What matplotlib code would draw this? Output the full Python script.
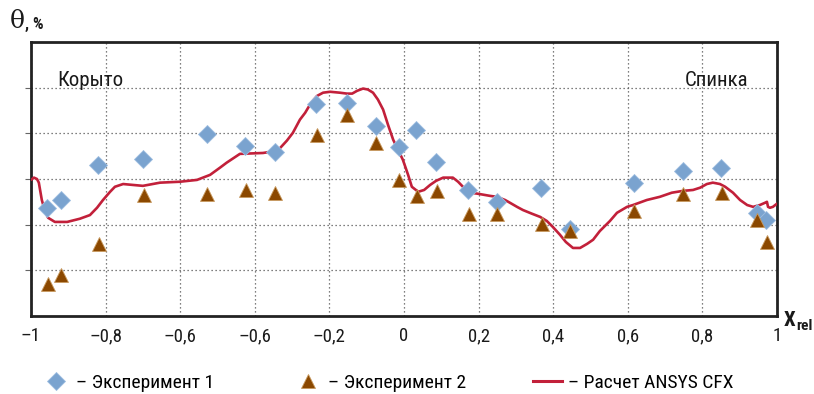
import matplotlib
matplotlib.use("Agg")
import matplotlib.pyplot as plt
from matplotlib import font_manager as fm
from matplotlib.lines import Line2D

# ---------------- data ----------------
exp1_x = [-0.957, -0.920, -0.820, -0.700, -0.528, -0.426, -0.346, -0.236, -0.153, -0.075,
          -0.013, 0.032, 0.086, 0.172, 0.249, 0.367, 0.445, 0.617, 0.748, 0.850, 0.946, 0.971]
exp1_y = [2.37, 2.54, 3.31, 3.44, 3.99, 3.73, 3.60, 4.65, 4.67, 4.17,
          3.71, 4.08, 3.38, 2.76, 2.50, 2.81, 1.91, 2.92, 3.18, 3.25, 2.26, 2.11]

exp2_x = [-0.954, -0.920, -0.818, -0.697, -0.528, -0.424, -0.346, -0.233, -0.153, -0.075,
          -0.013, 0.035, 0.088, 0.174, 0.249, 0.370, 0.445, 0.617, 0.748, 0.853, 0.946, 0.973]
exp2_y = [0.70, 0.90, 1.58, 2.65, 2.68, 2.76, 2.70, 3.97, 4.41, 3.79,
          2.98, 2.63, 2.74, 2.24, 2.24, 2.02, 1.86, 2.30, 2.68, 2.70, 2.11, 1.62]

cfx_x = [-1.000, -0.992, -0.984, -0.979, -0.971, -0.962, -0.954, -0.936, -0.903, -0.869,
         -0.842, -0.823, -0.807, -0.788, -0.775, -0.753, -0.727, -0.700, -0.654, -0.601,
         -0.555, -0.520, -0.493, -0.475, -0.440, -0.378, -0.354, -0.332, -0.314, -0.298,
         -0.279, -0.265, -0.249, -0.233, -0.217, -0.198, -0.172, -0.153, -0.139, -0.126,
         -0.110, -0.097, -0.083, -0.070, -0.056, -0.043, -0.029, -0.016, -0.003, 0.011,
         0.021, 0.038, 0.054, 0.070, 0.086, 0.105, 0.131, 0.145, 0.158, 0.177,
         0.196, 0.231, 0.249, 0.271, 0.284, 0.303, 0.319, 0.343, 0.365, 0.383,
         0.399, 0.418, 0.434, 0.453, 0.472, 0.491, 0.507, 0.525, 0.552, 0.571,
         0.598, 0.614, 0.651, 0.686, 0.718, 0.748, 0.775, 0.794, 0.812, 0.828,
         0.847, 0.861, 0.882, 0.901, 0.920, 0.936, 0.954, 0.968, 0.973, 0.976,
         0.981, 0.989, 1.000]
cfx_y = [2.98, 3.03, 3.00, 2.92, 2.54, 2.28, 2.15, 2.06, 2.06, 2.13,
         2.21, 2.37, 2.54, 2.72, 2.83, 2.89, 2.87, 2.85, 2.92, 2.94,
         2.98, 3.09, 3.25, 3.36, 3.55, 3.57, 3.60, 3.68, 3.84, 4.01,
         4.30, 4.45, 4.67, 4.82, 4.89, 4.91, 4.89, 4.87, 4.87, 4.93,
         4.98, 4.96, 4.89, 4.74, 4.52, 4.19, 3.86, 3.64, 3.42, 3.09,
         2.83, 2.72, 2.76, 2.87, 2.96, 3.03, 3.03, 2.94, 2.83, 2.70,
         2.68, 2.63, 2.61, 2.54, 2.48, 2.39, 2.32, 2.24, 2.17, 2.08,
         1.95, 1.78, 1.62, 1.49, 1.49, 1.58, 1.67, 1.86, 2.08, 2.26,
         2.39, 2.43, 2.54, 2.61, 2.70, 2.74, 2.76, 2.81, 2.89, 2.92,
         2.89, 2.83, 2.70, 2.54, 2.43, 2.39, 2.43, 2.48, 2.50, 2.39,
         2.37, 2.39, 2.46]

xticks = [-1.0, -0.8, -0.6, -0.4, -0.2, 0.0, 0.2, 0.4, 0.6, 0.8, 1.0]
xtick_labels = ["–1", "–0,8", "–0,6", "–0,6", "–0,2", "0", "0,2", "0,4", "0,6", "0,8", "1"]
yticks = [1, 2, 3, 4, 5]

label_exp1 = "– Эксперимент 1"
label_exp2 = "– Эксперимент 2"
label_cfx = "– Расчет ANSYS CFX"

# ---------------- fonts ----------------
names = {f.name for f in fm.fontManager.ttflist}
narrow = None
for cand in ["Liberation Sans Narrow", "Roboto Condensed", "Open Sans Condensed", "Noto Sans"]:
    if cand in names:
        narrow = cand
        break
if narrow is None:
    narrow = "DejaVu Sans"
stretch = "normal" if "Narrow" in narrow or "Condensed" in narrow else "condensed"
plt.rcParams["font.family"] = [narrow, "DejaVu Sans"]

c_blue = "#7aa3cf"
c_brown = "#8b4800"
c_red = "#c2203a"
c_dark = "#222222"

fig = plt.figure(figsize=(8.14, 3.94), dpi=100)
ax = fig.add_axes([31 / 814, 78 / 394, 746 / 814, 274 / 394])

ax.plot(cfx_x, cfx_y, color=c_red, lw=1.9, zorder=3, solid_capstyle="round")
ax.plot(exp1_x, exp1_y, ls="none", marker="D", ms=9, color=c_blue,
        markeredgecolor="#9dbde0", markeredgewidth=0.6, zorder=4)
ax.plot(exp2_x, exp2_y, ls="none", marker="^", ms=10.5, color=c_brown,
        markeredgecolor="#c89a60", markeredgewidth=0.6, zorder=5)

ax.set_xlim(-1, 1)
ax.set_ylim(0, 6)
ax.set_xticks(xticks)
ax.set_xticklabels(xtick_labels, fontsize=13.5, stretch=stretch, color="#1a1a1a")
ax.set_yticks(yticks)
ax.set_yticklabels([])
ax.tick_params(axis="x", length=0, pad=8)
ax.tick_params(axis="y", length=4, width=0.8, color="#666666", direction="out")
ax.grid(True, ls=(0, (1, 2.2)), lw=0.9, color="#555555")
ax.set_axisbelow(True)
for s in ax.spines.values():
    s.set_color(c_dark)
    s.set_linewidth(2.0)

ax.text(0.035, 0.86, "Корыто", transform=ax.transAxes, fontsize=15,
        stretch=stretch, color="#1a1a1a", va="center", ha="left")
ax.text(0.962, 0.86, "Спинка", transform=ax.transAxes, fontsize=15,
        stretch=stretch, color="#1a1a1a", va="center", ha="right")

fig.text(10 / 814, 1 - 21 / 394, "θ", fontsize=18, family=["DejaVu Serif"],
         va="center", ha="left", color="#1a1a1a")
fig.text(25 / 814, 1 - 24 / 394, ", %", fontsize=12, fontweight="bold",
         va="center", ha="left", color="#1a1a1a")
fig.text(784 / 814, 1 - 321 / 394, "X", fontsize=15, fontweight="bold",
         stretch=stretch, va="center", ha="left", color="#1a1a1a")
fig.text(796 / 814, 1 - 326 / 394, "rel", fontsize=11, fontweight="bold",
         stretch=stretch, va="center", ha="left", color="#1a1a1a")

h1 = Line2D([], [], ls="none", marker="D", ms=9, color=c_blue,
            markeredgecolor="#9dbde0", markeredgewidth=0.6)
h2 = Line2D([], [], ls="none", marker="^", ms=10.5, color=c_brown,
            markeredgecolor="#c89a60", markeredgewidth=0.6)
h3 = Line2D([], [], color=c_red, lw=2.2)
for h, lab, xpos in [(h1, label_exp1, 41.5), (h2, label_exp2, 293.5), (h3, label_cfx, 533)]:
    fig.legend(handles=[h], labels=[lab], loc="center left",
               bbox_to_anchor=(xpos / 814, 1 - 383 / 394), frameon=False,
               borderpad=0, borderaxespad=0, handlelength=1.5, handletextpad=0.3,
               prop={"size": 14, "stretch": stretch})

fig.savefig("out.png", dpi=100)
